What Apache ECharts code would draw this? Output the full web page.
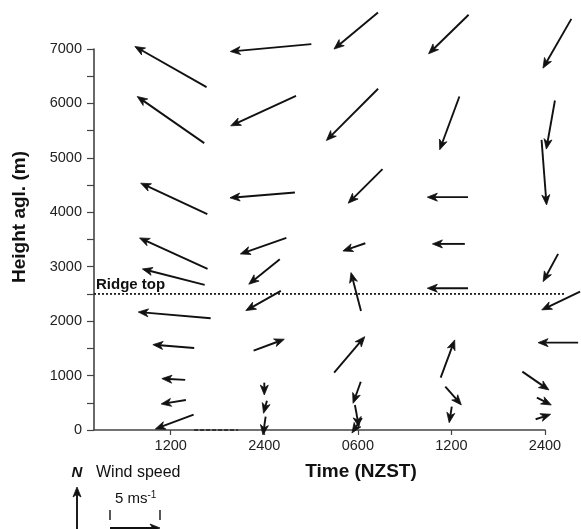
<!DOCTYPE html>
<html>
<head>
<meta charset="utf-8">
<script src="https://cdn.jsdelivr.net/npm/echarts@6/dist/echarts.min.js"></script>
<style>html,body{margin:0;padding:0;background:#fff;}#c{width:581px;height:529px;}</style>
</head>
<body>
<div id="c"></div>
<script>
// Time slots (evenly spaced on the axis) and their labels
var tickPositions = [1, 2, 3, 4, 5];
var tickLabels = ['1200', '2400', '0600', '1200', '2400'];

// Wind vectors: time slot, height (m), u (east, m/s), v (north, m/s)
var arrowTime = [
  1.00, 1.00, 1.035, 1.03, 1.03, 1.04, 1.03, 1.03, 1.03, 1.04,
  2.07, 1.99, 1.98, 1.99, 2.00, 1.99, 2.05, 2.00, 2.01, 2.00,
  2.98, 2.94, 3.08, 2.96, 2.98, 2.91, 2.99, 2.99, 2.99,
  3.97, 3.98, 3.96, 3.97, 3.96, 3.96, 4.02, 3.99,
  5.13, 5.06, 4.99, 5.06, 5.17, 5.14, 4.90, 4.99, 4.98
];
var arrowHeight = [
  6673, 5699, 4250, 3244, 2812, 2110, 1538, 932, 515, 150,
  7022, 5864, 4314, 3382, 2908, 2375, 1563, 757, 423, 77,
  7335, 5794, 4480, 3360, 2540, 1384, 689, 257, 83,
  7270, 5638, 4278, 3419, 2605, 1309, 629, 281,
  7101, 5607, 4733, 2981, 2375, 1605, 904, 527, 243
];
var arrowU = [
  -7.17, -6.70, -6.66, -6.80, -6.23, -7.24, -4.13, -2.33, -2.47, -3.83,
  -8.10, -6.53, -6.50, -4.60, -3.10, -3.50, 3.07, 0.00, -0.34, -0.27,
  -4.40, -5.17, -3.43, -2.24, -1.00, 3.06, -0.77, 0.40, -1.00,
  -4.00, -1.97, -4.07, -3.24, -4.07, 1.40, 1.60, -0.26,
  -2.84, -0.86, 0.50, -1.50, -3.83, -4.00, 2.66, 1.44, 1.50
];
var arrowV = [
  4.06, 4.66, 3.10, 3.10, 1.60, 0.63, 0.33, 0.13, -0.40, -1.43,
  -0.74, -3.00, -0.53, -1.60, -2.50, -1.97, 1.14, -1.23, -1.26, -1.83,
  -3.66, -5.17, -3.40, -0.77, 3.83, 3.60, -2.16, -2.20, -1.50,
  -3.90, -5.33, 0.00, 0.00, 0.00, 3.77, -1.83, -1.60,
  -4.93, -4.86, -6.50, -2.77, -1.83, 0.00, -1.83, -0.73, 0.50
];

var ridgeHeight = 2500;
var ridgeSpan = [0.18, 5.22];
var missingSpan = [1.25, 1.72];
var missingHeight = 0;
var legendSpeed = 5;

var PX_PER_MS = 10; // drawing scale for arrows
var INK = '#111';

var arrowData = arrowTime.map(function (t, i) {
  return [t, arrowHeight[i], arrowU[i], arrowV[i]];
});

function arrowShapes(x1, y1, x2, y2, L, W) {
  var dx = x2 - x1, dy = y2 - y1;
  var len = Math.sqrt(dx * dx + dy * dy) || 1;
  var ux = dx / len, uy = dy / len;
  var px = -uy, py = ux;
  var hl = Math.min(L, len * 0.8);
  var bx = x2 - ux * hl, by = y2 - uy * hl;
  var nx = x2 - ux * hl * 0.72, ny = y2 - uy * hl * 0.72;
  return [
    { type: 'line', shape: { x1: x1, y1: y1, x2: nx, y2: ny },
      style: { stroke: INK, lineWidth: 1.9 } },
    { type: 'polygon', shape: { points: [[x2, y2], [bx + px * W, by + py * W], [nx, ny], [bx - px * W, by - py * W]] },
      style: { fill: INK, stroke: INK, lineWidth: 0.8, lineJoin: 'miter' } }
  ];
}

var chart = echarts.init(document.getElementById('c'), null, { renderer: 'canvas' });

var legendArrowLen = legendSpeed * PX_PER_MS;
var graphics = [
  { type: 'text', left: 96, top: 277, style: { text: 'Ridge top', font: 'bold 15px "Liberation Sans", Arial, sans-serif', fill: INK } },
  { type: 'text', x: 20, y: 217, rotation: Math.PI / 2,
    style: { text: 'Height agl. (m)', font: 'bold 19px "Liberation Sans", Arial, sans-serif', fill: INK, align: 'center', verticalAlign: 'middle' } },
  { type: 'text', x: 361, y: 472,
    style: { text: 'Time (NZST)', font: 'bold 19px "Liberation Sans", Arial, sans-serif', fill: INK, align: 'center', verticalAlign: 'middle' } },
  { type: 'text', x: 77, y: 473,
    style: { text: 'N', font: 'italic bold 15px "Liberation Sans", Arial, sans-serif', fill: INK, align: 'center', verticalAlign: 'middle' } },
  { type: 'text', x: 96, y: 473,
    style: { text: 'Wind speed', font: '16px "Liberation Sans", Arial, sans-serif', fill: INK, align: 'left', verticalAlign: 'middle' } },
  { type: 'text', x: 115, y: 499,
    style: { rich: { n: { font: '15px "Liberation Sans", Arial, sans-serif', fill: INK }, s: { font: '10px "Liberation Sans", Arial, sans-serif', fill: INK, verticalAlign: 'top', padding: [0,0,8,0] } },
      text: '{n|5 ms}{s|-1}', verticalAlign: 'middle', align: 'left' } },
  { type: 'line', shape: { x1: 110, y1: 510, x2: 110, y2: 520 }, style: { stroke: INK, lineWidth: 1.4 } },
  { type: 'line', shape: { x1: 110 + legendArrowLen, y1: 510, x2: 110 + legendArrowLen, y2: 520 }, style: { stroke: INK, lineWidth: 1.4 } }
];
arrowShapes(77, 540, 77, 487, 10, 4).forEach(function (g) { graphics.push(g); });
arrowShapes(110, 528, 110 + legendArrowLen, 528, 10, 4).forEach(function (g) { graphics.push(g); });

function segmentSeries(span, height, color, width, dash) {
  return {
    type: 'custom', clip: false, silent: true,
    data: [[span[0], height, span[1]]],
    encode: { x: 0, y: 1 },
    renderItem: function (params, api) {
      var a = api.coord([api.value(0), api.value(1)]);
      var b = api.coord([api.value(2), api.value(1)]);
      return { type: 'line', shape: { x1: a[0], y1: a[1], x2: b[0], y2: b[1] },
        style: { stroke: color, lineWidth: width, lineDash: dash } };
    }
  };
}

chart.setOption({
  animation: false,
  backgroundColor: '#fff',
  grid: { left: 94, right: 36, top: 49, bottom: 99, containLabel: false },
  xAxis: {
    type: 'value', min: 0.18, max: 5,
    axisLine: { onZero: false, lineStyle: { color: '#444', width: 1.6 } },
    axisTick: { customValues: tickPositions, length: 5, lineStyle: { color: '#444', width: 1.2 } },
    axisLabel: { customValues: tickPositions, margin: 8, color: '#222', fontSize: 14.5, fontFamily: '"Liberation Sans", Arial, sans-serif',
      formatter: function (v) { var i = tickPositions.indexOf(Math.round(v)); return i >= 0 ? tickLabels[i] : ''; } },
    splitLine: { show: false }
  },
  yAxis: {
    type: 'value', min: 0, max: 7000, interval: 500,
    axisLine: { show: true, onZero: false, lineStyle: { color: '#444', width: 1.6 } },
    axisTick: { show: true, length: 7, lineStyle: { color: '#444', width: 1.2 } },
    axisLabel: { margin: 12, color: '#222', fontSize: 14.5, fontFamily: '"Liberation Sans", Arial, sans-serif',
      formatter: function (v) { return v % 1000 === 0 ? String(v) : ''; } },
    splitLine: { show: false }
  },
  graphic: graphics,
  series: [
    segmentSeries(ridgeSpan, ridgeHeight, INK, 1.7, [2, 2]),
    segmentSeries(missingSpan, missingHeight, '#333', 1.8, [4, 2]),
    {
      type: 'custom', clip: false, silent: true,
      data: arrowData,
      encode: { x: 0, y: 1 },
      renderItem: function (params, api) {
        var c = api.coord([api.value(0), api.value(1)]);
        var dx = api.value(2) * PX_PER_MS, dy = -api.value(3) * PX_PER_MS;
        var x1 = c[0] - dx / 2, y1 = c[1] - dy / 2, x2 = c[0] + dx / 2, y2 = c[1] + dy / 2;
        return { type: 'group', children: arrowShapes(x1, y1, x2, y2, 10, 4) };
      }
    }
  ]
});
</script>
</body>
</html>
